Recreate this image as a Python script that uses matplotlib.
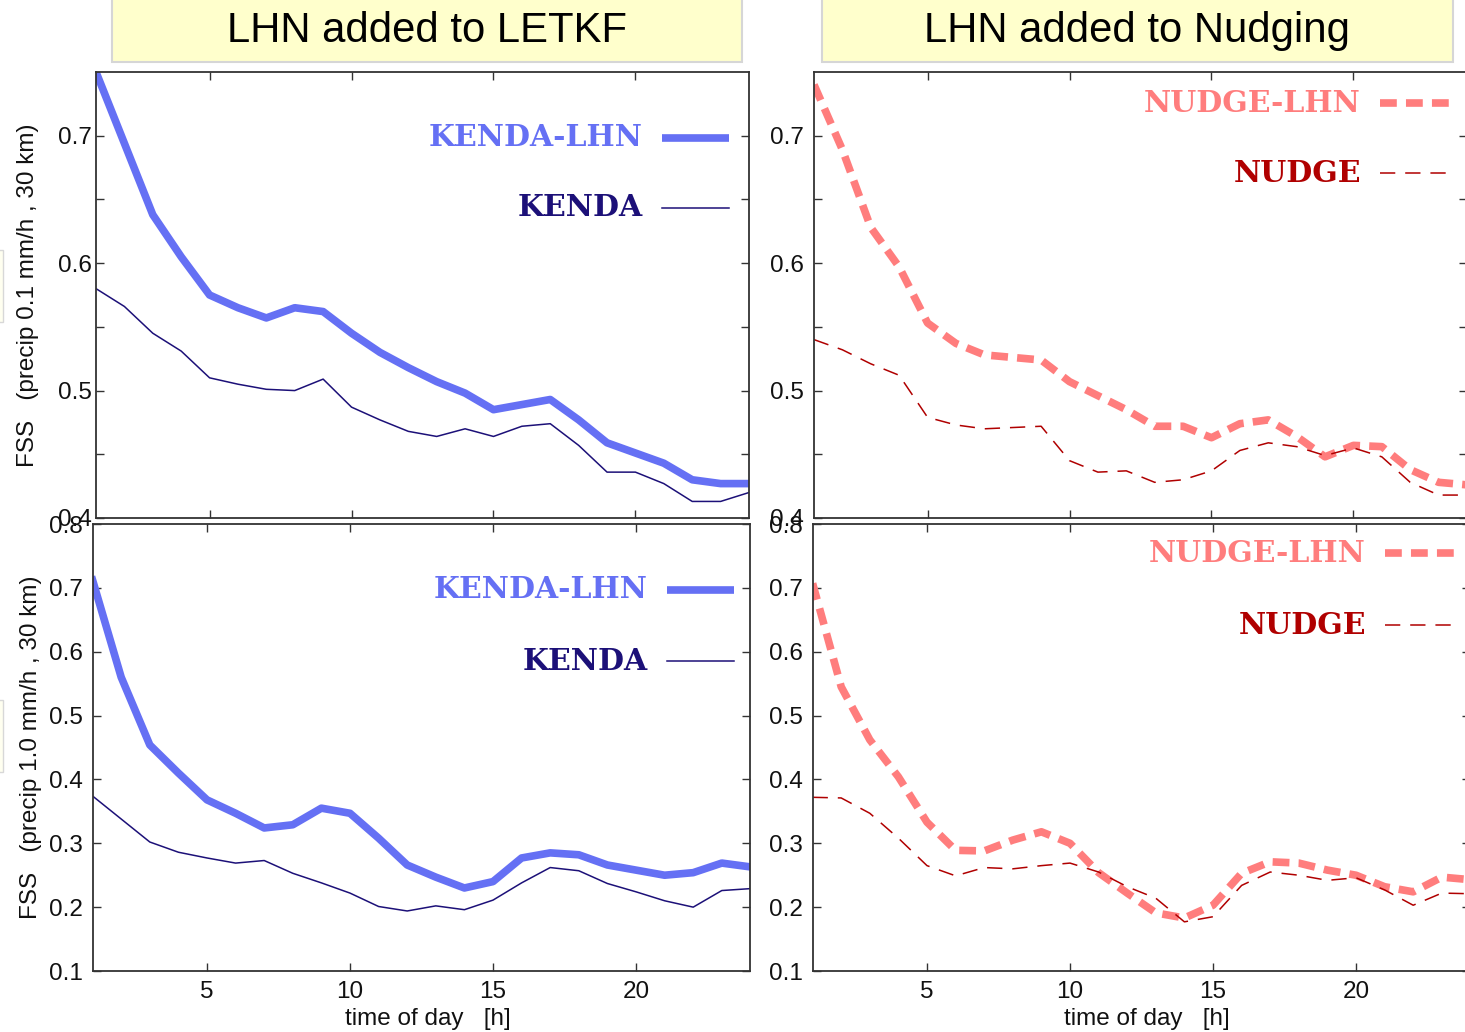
import numpy as np
import matplotlib
matplotlib.use("Agg")
import matplotlib.pyplot as plt
from matplotlib.patches import Rectangle
from matplotlib.lines import Line2D

plt.rcParams['font.family'] = ['Liberation Sans', 'DejaVu Sans']

W, H = 1465, 1032

# hourly FSS scores, time of day 1..24 h
hours = np.arange(1, 25)

# precip threshold 0.1 mm/h
kenda_lhn_01 = [0.750, 0.694, 0.638, 0.605, 0.575, 0.565, 0.557, 0.565, 0.562, 0.545,
                0.530, 0.518, 0.507, 0.498, 0.485, 0.489, 0.493, 0.477, 0.459, 0.451,
                0.443, 0.430, 0.427, 0.427]
kenda_01 = [0.580, 0.566, 0.545, 0.531, 0.510, 0.505, 0.501, 0.500, 0.509, 0.487,
            0.477, 0.468, 0.464, 0.470, 0.464, 0.472, 0.474, 0.457, 0.436, 0.436,
            0.427, 0.413, 0.413, 0.420]
nudge_lhn_01 = [0.740, 0.689, 0.628, 0.597, 0.553, 0.537, 0.528, 0.526, 0.524, 0.507,
                0.496, 0.485, 0.472, 0.472, 0.463, 0.474, 0.477, 0.464, 0.448, 0.457,
                0.456, 0.438, 0.428, 0.426]
nudge_01 = [0.540, 0.532, 0.521, 0.512, 0.479, 0.473, 0.470, 0.471, 0.472, 0.445,
            0.436, 0.437, 0.428, 0.430, 0.437, 0.453, 0.459, 0.456, 0.449, 0.455,
            0.448, 0.428, 0.418, 0.418]

# precip threshold 1.0 mm/h
kenda_lhn_10 = [0.712, 0.560, 0.454, 0.410, 0.368, 0.347, 0.324, 0.329, 0.355, 0.347,
                0.308, 0.266, 0.247, 0.230, 0.240, 0.277, 0.285, 0.282, 0.266, 0.258,
                0.250, 0.254, 0.269, 0.263]
kenda_10 = [0.374, 0.338, 0.302, 0.286, 0.277, 0.269, 0.273, 0.253, 0.238, 0.222,
            0.201, 0.194, 0.202, 0.196, 0.211, 0.238, 0.262, 0.257, 0.237, 0.224,
            0.210, 0.200, 0.226, 0.229]
nudge_lhn_10 = [0.707, 0.545, 0.462, 0.404, 0.333, 0.289, 0.288, 0.305, 0.318, 0.300,
                0.254, 0.222, 0.191, 0.183, 0.203, 0.253, 0.271, 0.269, 0.258, 0.250,
                0.232, 0.224, 0.247, 0.243]
nudge_10 = [0.372, 0.371, 0.347, 0.308, 0.265, 0.249, 0.262, 0.260, 0.265, 0.269,
            0.255, 0.232, 0.214, 0.177, 0.185, 0.234, 0.255, 0.250, 0.242, 0.246,
            0.227, 0.203, 0.222, 0.221]

panel_titles = ["LHN added to LETKF", "LHN added to Nudging"]
ylabels = ["FSS   (precip 0.1 mm/h , 30 km)", "FSS   (precip 1.0 mm/h , 30 km)"]
xlabel = "time of day   [h]"

c_klhn = '#6570f4'
c_kenda = '#1c1078'
c_nlhn = '#ff7d7d'
c_nudge = '#b00000'

fig = plt.figure(figsize=(W / 100, H / 100), dpi=100)
fig.patch.set_facecolor('white')


def px_axes(x0, x1, y0, y1):
    return fig.add_axes([x0 / W, 1 - y1 / H, (x1 - x0) / W, (y1 - y0) / H])


ax_tl = px_axes(96, 749, 72, 518)
ax_tr = px_axes(814, 1467, 72, 518)
ax_bl = px_axes(92.6, 750.4, 524, 971)
ax_br = px_axes(812.6, 1470.4, 524, 971)

thick = dict(lw=5.5, solid_joinstyle='round')
thin = dict(lw=1.1)

ax_tl.plot(hours, kenda_lhn_01, color=c_klhn, **thick)
ax_tl.plot(hours, kenda_01, color=c_kenda, **thin)
ax_tr.plot(hours, nudge_lhn_01, color=c_nlhn, dashes=(2.2, 1.2), dash_capstyle='butt', lw=5.5)
ax_tr.plot(hours, nudge_01, color=c_nudge, dashes=(10, 6.5), lw=1.1)
ax_bl.plot(hours, kenda_lhn_10, color=c_klhn, **thick)
ax_bl.plot(hours, kenda_10, color=c_kenda, **thin)
ax_br.plot(hours, nudge_lhn_10, color=c_nlhn, dashes=(2.2, 1.2), dash_capstyle='butt', lw=5.5)
ax_br.plot(hours, nudge_10, color=c_nudge, dashes=(10, 6.5), lw=1.1)

for ax, pad in [(ax_tl, 3), (ax_tr, 7), (ax_bl, 7), (ax_br, 7)]:
    ax.set_xlim(1, 24)
    ax.set_xticks([5, 10, 15, 20])
    for s in ax.spines.values():
        s.set_color('#333333')
        s.set_linewidth(1.3)
    ax.tick_params(which='both', direction='in', top=True, right=True,
                   length=6, width=1.0, color='#333333', labelsize=17.5,
                   labelcolor='#111111')
    ax.tick_params(axis='y', pad=pad)
    ax.tick_params(axis='x', pad=7)

for ax in (ax_tl, ax_tr):
    ax.set_ylim(0.4, 0.75)
    ax.set_yticks([0.4, 0.5, 0.6, 0.7])
    ax.set_yticks(np.arange(0.45, 0.75, 0.1), minor=True)
    ax.set_yticklabels(['0.4', '0.5', '0.6', '0.7'])
    ax.tick_params(axis='x', labelbottom=False)

for ax in (ax_bl, ax_br):
    ax.set_ylim(0.1, 0.8)
    ax.set_yticks(np.arange(0.1, 0.81, 0.1))
    ax.set_yticklabels(['%.1f' % v for v in np.arange(0.1, 0.81, 0.1)])


def fx(x):
    return x / W


def fy(y):
    return 1 - y / H


# legend entries, gnuplot style: right-aligned name followed by a line sample
keyfont = dict(family=['DejaVu Serif', 'Liberation Serif'], weight='bold', fontsize=21.5,
               ha='right', va='center')


def key(text, color, x_end, y, x0, x1, **line_kw):
    fig.text(fx(x_end), fy(y), text, color=color, **keyfont)
    fig.add_artist(Line2D([fx(x0), fx(x1)], [fy(y), fy(y)], color=color, **line_kw))


key("KENDA-LHN", c_klhn, 643, 138, 662, 729, lw=5.5, solid_capstyle='butt')
key("KENDA", c_kenda, 643, 208, 662, 729, lw=1.1)
key("NUDGE-LHN", c_nlhn, 1361, 103, 1380, 1449, lw=5.5, dashes=(2.2, 1.2), dash_capstyle='butt')
key("NUDGE", c_nudge, 1361, 173, 1380, 1449, lw=1.1, dashes=(10, 6.5))
key("KENDA-LHN", c_klhn, 648, 590, 667, 734, lw=5.5, solid_capstyle='butt')
key("KENDA", c_kenda, 648, 661, 667, 734, lw=1.1)
key("NUDGE-LHN", c_nlhn, 1366, 553, 1385, 1455, lw=5.5, dashes=(2.2, 1.2), dash_capstyle='butt')
key("NUDGE", c_nudge, 1366, 625, 1385, 1455, lw=1.1, dashes=(10, 6.5))

# title boxes
for (x0, x1), title in zip([(112, 742), (822, 1453)], panel_titles):
    fig.add_artist(Rectangle((fx(x0), fy(62)), (x1 - x0) / W, 70 / H,
                             facecolor='#ffffcc', edgecolor='#d6d6d6', lw=1.5))
    fig.text(fx((x0 + x1) / 2), fy(31), title, fontsize=30.2, ha='center', va='center',
             color='black')

# leftover slivers of side boxes at the figure edge
for y0, y1 in [(250, 322), (700, 772)]:
    fig.add_artist(Rectangle((fx(-10), fy(y1)), 13 / W, (y1 - y0) / H,
                             facecolor='#fffff0', edgecolor='#d8d8d8', lw=1.0))

fig.text(fx(28), fy(295), ylabels[0], rotation=90, ha='center', va='center',
         fontsize=17.5, color='#111111')
fig.text(fx(31), fy(747), ylabels[1], rotation=90, ha='center', va='center',
         fontsize=17.5, color='#111111')
fig.text(fx(428), fy(1019), xlabel, ha='center', va='center', fontsize=17.5, color='#111111')
fig.text(fx(1147), fy(1019), xlabel, ha='center', va='center', fontsize=17.5, color='#111111')

fig.savefig('out.png', dpi=100)
